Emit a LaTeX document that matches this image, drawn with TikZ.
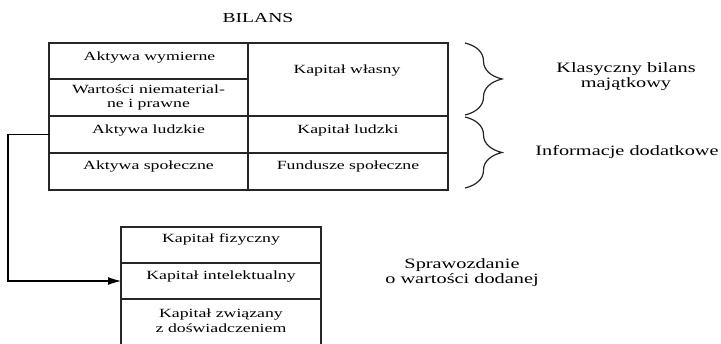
\documentclass[tikz,border=0pt]{standalone}
\usepackage{fontspec}
\setmainfont{Liberation Serif}[FakeStretch=1.42]
\usetikzlibrary{arrows.meta,decorations.pathreplacing}
\begin{document}
\begin{tikzpicture}[x=1pt,y=-1pt,
  frame/.style={draw=black!85, line width=1.2pt},
  cell/.style={frame, rectangle, inner sep=0pt, outer sep=0pt},
  txt/.style={inner sep=0pt, align=center, font=\fontsize{12.5}{14.5}\selectfont},
  lbl/.style={inner sep=0pt, align=center, font=\fontsize{14.3}{14.3}\selectfont},
  conn/.style={draw=black, line width=1.1pt, -{Latex[length=13pt,width=8pt]}},
  brc/.style={draw=black!85, line width=1.2pt, decorate, decoration={brace, amplitude=37pt}}]
\useasboundingbox (0,0) rectangle (721,344);
\fill[white] (0,0) rectangle (721,344);

% title
\node[lbl, font=\fontsize{13.8}{14}\selectfont, anchor=base] (title) at (258,23) {BILANS};

% top table
\node[cell, minimum width=199pt, minimum height=36pt] (aw) at (148.5,61) {};
\node[cell, minimum width=199pt, minimum height=37pt] (wn) at (148.5,97.5) {};
\node[cell, minimum width=200pt, minimum height=73pt] (kw) at (348,79.5) {};
\node[cell, minimum width=199pt, minimum height=37pt] (al) at (148.5,134.5) {};
\node[cell, minimum width=200pt, minimum height=37pt] (kl) at (348,134.5) {};
\node[cell, minimum width=199pt, minimum height=37pt] (as) at (148.5,171.5) {};
\node[cell, minimum width=200pt, minimum height=37pt] (fs) at (348,171.5) {};

\node[txt, anchor=base] (taw) at (149.5,61) {Aktywa wymierne};
\node[txt] (twn) at (148.5,97.5) {Wartości niematerial-\\ne i prawne};
\node[txt, anchor=base] (tkw) at (347,74) {Kapitał własny};
\node[txt, anchor=base] (tal) at (148.5,134) {Aktywa ludzkie};
\node[txt, anchor=base] (tkl) at (348,134) {Kapitał ludzki};
\node[txt, anchor=base] (tas) at (148.5,170) {Aktywa społeczne};
\node[txt, anchor=base] (tfs) at (348,170) {Fundusze społeczne};

% braces
\coordinate (b1a) at (465,43);
\coordinate (b1b) at (465,115);
\coordinate (b2a) at (465,117);
\coordinate (b2b) at (465,188);
\draw[brc] (b1a) -- (b1b);
\draw[brc] (b2a) -- (b2b);

\node[lbl] (klas) at (626,76.5) {Klasyczny bilans\\majątkowy};
\node[lbl, anchor=base] (info) at (627,156) {Informacje dodatkowe};

% bottom table
\node[cell, minimum width=200pt, minimum height=36pt] (kf) at (221,245) {};
\node[cell, minimum width=200pt, minimum height=36pt] (ki) at (221,281) {};
\coordinate (kdl) at (121,350);
\coordinate (kdr) at (321,350);
\draw[frame] (ki.south west) -- (kdl);
\draw[frame] (ki.south east) -- (kdr);

\node[txt, anchor=base] (tkf) at (221,243) {Kapitał fizyczny};
\node[txt, anchor=base] (tki) at (221,280) {Kapitał intelektualny};
\node[txt] (tkd) at (221,320.6) {Kapitał związany\\z doświadczeniem};

\node[lbl] (spr) at (462,272.7) {Sprawozdanie\\o wartości dodanej};

% connector
\draw[conn] (al.west) -- ++(-41,0) |- (ki.west);
\end{tikzpicture}
\end{document}
